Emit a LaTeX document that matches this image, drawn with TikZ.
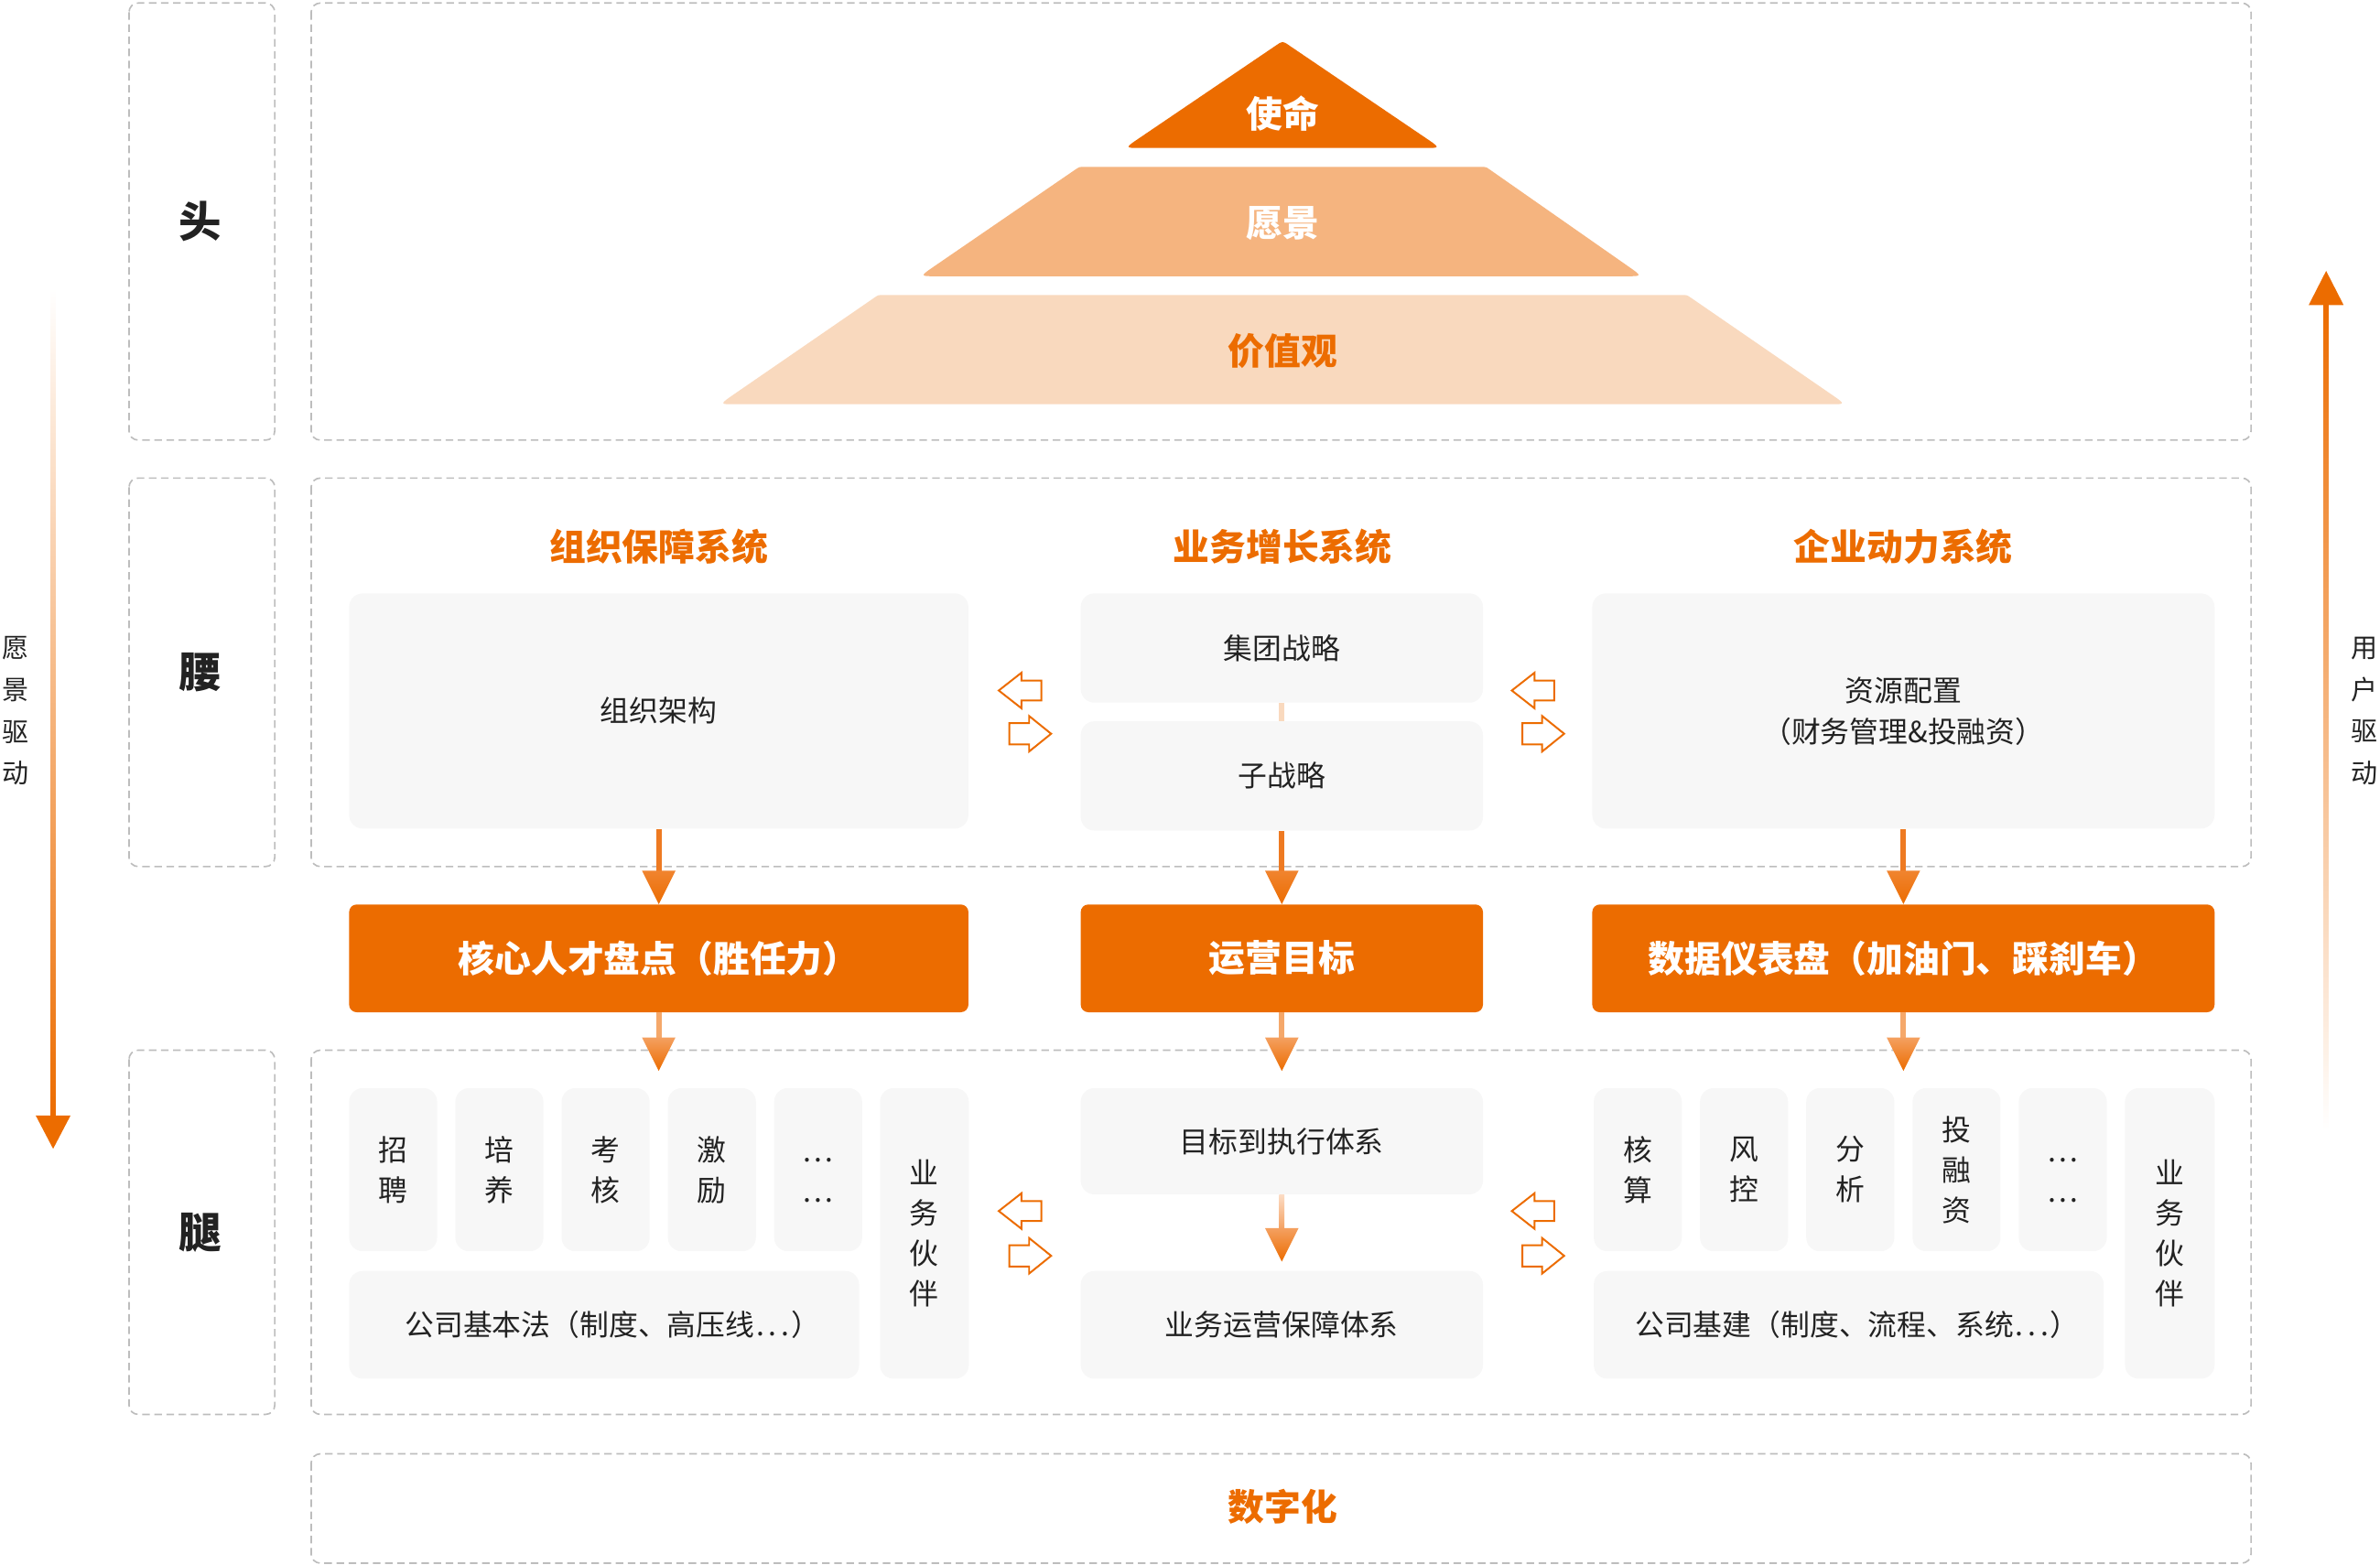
\documentclass[tikz,border=0pt]{standalone}
\usepackage{fontspec}
\setmainfont{Noto Sans CJK SC}
\usetikzlibrary{calc}
\definecolor{org}{HTML}{EC6C00}
\definecolor{org2}{HTML}{F5B47F}
\definecolor{org3}{HTML}{F9D9BE}
\definecolor{boxg}{HTML}{F7F7F7}
\definecolor{dashg}{HTML}{BDBDBD}
\definecolor{txt}{HTML}{222222}
\definecolor{shA}{HTML}{EE7A22}
\definecolor{hdA}{HTML}{F0842F}
\definecolor{shB}{HTML}{F5A86A}
\definecolor{hdB}{HTML}{F4A060}
\definecolor{shC}{HTML}{FCDCC4}
\newcommand\hollowL[2]{\draw[hollow] (#1,#2) -- ++(15,-11.75) -- ++(0,5.15) -- ++(13,0) -- ++(0,13.2) -- ++(-13,0) -- ++(0,5.15) -- cycle;}
\newcommand\hollowR[2]{\draw[hollow] (#1,#2-7) -- ++(13,0) -- ++(0,-4.7) -- ++(14.5,11.7) -- ++(-14.5,11.7) -- ++(0,-4.7) -- ++(-13,0) -- cycle;}
% trapezoid: colour, BLx, BRx, TRx, TLx, bottom y, top y
\newcommand\pyr[7]{%
\fill[#1] ($(#2,#6)+(10,0)$) -- ($(#3,#6)+(-10,0)$) .. controls (#3,#6) .. ($(#3,#6)!12pt!(#4,#7)$)
  -- ($(#4,#7)!3pt!(#3,#6)$) .. controls (#4,#7) .. ($(#4,#7)+(-3,0)$)
  -- ($(#5,#7)+(3,0)$) .. controls (#5,#7) .. ($(#5,#7)!3pt!(#2,#6)$)
  -- ($(#2,#6)!12pt!(#5,#7)$) .. controls (#2,#6) .. ($(#2,#6)+(10,0)$) -- cycle;}
\newcommand\dotsL{\kern1pt.\kern3pt.\kern3pt.\kern1pt}
\newcommand\closeP{\rlap{）}\kern8pt}
\newcommand\vdotsbox{\raisebox{-7pt}[\height][\depth]{…}}
\begin{document}
\begin{tikzpicture}[x=1pt,y=-1pt,
 dbox/.style={draw=dashg, line width=1pt, dash pattern=on 5pt off 3pt, rounded corners=6pt},
 gbox/.style={fill=boxg, rounded corners=9pt, inner sep=0pt, text=txt, font=\fontsize{19.2}{26.5}\selectfont, align=center},
 obox/.style={fill=org, rounded corners=5pt, inner sep=0pt, text=white, font=\fontsize{24}{28}\selectfont\bfseries},
 title/.style={text=org, font=\fontsize{24}{28}\selectfont\bfseries},
 ptext/.style={font=\fontsize{24}{28}\selectfont\bfseries},
 lab/.style={text=txt, font=\fontsize{28}{32}\selectfont\bfseries},
 side/.style={text=txt, font=\fontsize{17.5}{27.5}\selectfont, align=center, inner sep=0pt},
 hollow/.style={draw=org, fill=white, line width=1.2pt, line join=miter},
]
\useasboundingbox (0,0) rectangle (1568,1031.25);

% dashed containers
\draw[dbox] (85,2) rectangle (181,290);
\draw[dbox] (85,315) rectangle (181,571);
\draw[dbox] (85,692) rectangle (181,932);
\draw[dbox] (205,2) rectangle (1483,290);
\draw[dbox] (205,315) rectangle (1483,571);
\draw[dbox] (205,692) rectangle (1483,932);
\draw[dbox] (205,958) rectangle (1483,1030);

\node[lab] (lhead) at (132,146) {头};
\node[lab] (lwaist) at (132,443) {腰};
\node[lab] (llegs) at (132,812) {腿};

% pyramid
\coordinate (apex) at (845,27);
\coordinate (mbl) at (741,97.5);
\coordinate (mbr) at (949,97.5);
\fill[org] ($(mbl)+(10,0)$) -- ($(mbr)+(-10,0)$) .. controls (mbr) .. ($(mbr)!12pt!(apex)$)
  -- ($(apex)!5pt!(mbr)$) .. controls (apex) .. ($(apex)!5pt!(mbl)$)
  -- ($(mbl)!12pt!(apex)$) .. controls (mbl) .. ($(mbl)+(10,0)$) -- cycle;
\pyr{org2}{606}{1082}{979}{711}{182}{110}
\pyr{org3}{474}{1216}{1111.4}{578.6}{266.4}{194.4}
\node[ptext, text=white] (mission) at (845,75) {使命};
\node[ptext, text=white] (vision) at (845,147) {愿景};
\node[ptext, text=org] (values) at (845,231) {价值观};

% waist
\node[title] (t1) at (434,360) {组织保障系统};
\node[title] (t2) at (845,360) {业务增长系统};
\node[title] (t3) at (1254,360) {企业动力系统};

\node[gbox, minimum width=408pt, minimum height=155pt] (orgarch) at (434,468.5) {组织架构};
\node[gbox, minimum width=265pt, minimum height=72pt] (grp) at (844.5,427) {集团战略};
\node[gbox, minimum width=265pt, minimum height=72pt] (sub) at (844.5,511.3) {子战略};
\node[gbox, minimum width=410pt, minimum height=155pt, font=\fontsize{19.2}{27}\selectfont] (res) at (1254,468.5) {资源配置\\（财务管理\&投融资）};
\draw[org3, line width=3.5pt] (grp.south) -- (sub.north);

% orange boxes
\node[obox, minimum width=408pt, minimum height=71pt] (core) at (434,631.5) {核心人才盘点（胜任力）};
\node[obox, minimum width=265pt, minimum height=71pt] (opt) at (844.5,631.5) {运营目标};
\node[obox, minimum width=410pt, minimum height=71pt] (dashb) at (1254,631.5) {数据仪表盘（加油门、踩刹车）};

% legs
\foreach \x/\t/\n in {259/招\\聘/a1,329/培\\养/a2,399/考\\核/a3,469/激\\励/a4,539/\vdotsbox\\\vdotsbox/a5}
  \node[gbox, minimum width=58pt, minimum height=107.5pt] (\n) at (\x,770.75) {\t};
\node[gbox, minimum width=336pt, minimum height=71pt] (law) at (398,873) {公司基本法（制度、高压线\dotsL\closeP};
\node[gbox, minimum width=58.5pt, minimum height=191.5pt] (bpL) at (609,812.75) {业\\务\\伙\\伴};

\node[gbox, minimum width=265pt, minimum height=70pt] (exe) at (844.5,752) {目标到执行体系};
\node[gbox, minimum width=265pt, minimum height=71pt] (ops) at (844.5,873) {业务运营保障体系};

\foreach \x/\t/\n in {1079/核\\算/b1,1149/风\\控/b2,1219/分\\析/b3,1289/投\\融\\资/b4,1359/\vdotsbox\\\vdotsbox/b5}
  \node[gbox, minimum width=58pt, minimum height=107.5pt] (\n) at (\x,770.75) {\t};
\node[gbox, minimum width=336pt, minimum height=71pt] (infra) at (1218,873) {公司基建（制度、流程、系统\dotsL\closeP};
\node[gbox, minimum width=59pt, minimum height=191.5pt] (bpR) at (1429.5,812.75) {业\\务\\伙\\伴};

\node[title] (digi) at (845,993) {数字化};

% arrows waist -> orange
\foreach \s/\t in {orgarch/core,sub/opt,res/dashb}{
  \fill[shA] ($(\s.south)+(-1.75,0)$) rectangle ($(\t.north)+(1.75,-21)$);
  \shade[top color=hdA, bottom color=org] ($(\t.north)+(-11,-22)$) -- ($(\t.north)+(11,-22)$) -- (\t.north) -- cycle;
}
% arrows orange -> legs
\foreach \s in {core,opt,dashb}{
  \coordinate (\s tip) at ($(\s.south)+(0,38.5)$);
  \fill[shB] ($(\s.south)+(-1.75,0)$) rectangle ($(\s tip)+(1.75,-21)$);
  \shade[top color=hdB, bottom color=org] ($(\s tip)+(-11,-22)$) -- ($(\s tip)+(11,-22)$) -- (\s tip) -- cycle;
}
% middle legs arrow
\coordinate (opstip) at ($(ops.north)+(0,-6)$);
\shade[top color=shC, bottom color=hdB] ($(exe.south)+(-1.75,0)$) rectangle ($(opstip)+(1.75,-21)$);
\shade[top color=hdB, bottom color=org] ($(opstip)+(-11,-22)$) -- ($(opstip)+(11,-22)$) -- (opstip) -- cycle;

% hollow arrows
\hollowL{658}{455}
\hollowR{665}{483.5}
\hollowL{996}{455}
\hollowR{1003}{483.5}
\hollowL{658}{798}
\hollowR{665}{827.5}
\hollowL{996}{798}
\hollowR{1003}{827.5}

% side arrows
\coordinate (ltop) at (35,190);
\coordinate (ltip) at (35,757);
\shade[top color=white, bottom color=org] ($(ltop)+(-1.7,0)$) rectangle ($(ltip)+(1.7,-21)$);
\fill[org] ($(ltip)+(-11.5,-22)$) -- ($(ltip)+(11.5,-22)$) -- (ltip) -- cycle;
\node[side] (lside) at (10,468.5) {愿\\景\\驱\\动};

\coordinate (rbot) at (1532.5,745);
\coordinate (rtip) at (1532.5,178.5);
\shade[top color=org, bottom color=white] ($(rtip)+(-1.7,21)$) rectangle ($(rbot)+(1.7,0)$);
\fill[org] ($(rtip)+(-11.5,22.5)$) -- ($(rtip)+(11.5,22.5)$) -- (rtip) -- cycle;
\node[side] (rside) at (1557.5,468.5) {用\\户\\驱\\动};
\end{tikzpicture}
\end{document}
